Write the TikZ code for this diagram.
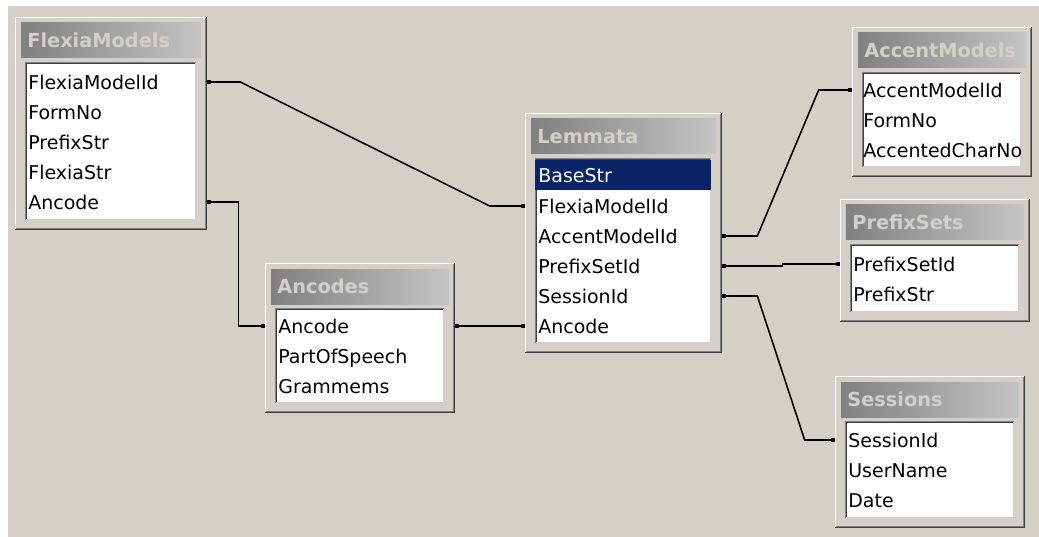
\documentclass[tikz,border=0pt]{standalone}
\usepackage{fontspec}
\setmainfont{DejaVu Sans}
\usetikzlibrary{positioning, fit, calc, arrows.meta}
\definecolor{winface}{HTML}{D4D0C8}
\definecolor{winshadow}{HTML}{808080}
\definecolor{windark}{HTML}{404040}
\definecolor{titledark}{HTML}{808080}
\definecolor{titlelight}{HTML}{C4C4C4}
\definecolor{selblue}{HTML}{0A246A}
\tikzset{
  winframe/.style={fill=winface, inner sep=0pt},
  titletext/.style={anchor=west, inner sep=0pt, text=winface,
    font=\fontsize{11}{13}\selectfont\bfseries},
  field/.style={anchor=west, inner sep=0pt, text height=11pt, text depth=2pt,
    font=\fontsize{10.8}{13}\selectfont},
  link/.style={line width=0.9pt,
    {Square[length=2.2pt,width=2.2pt]}-{Square[length=2.2pt,width=2.2pt]}}}
% table frame: name, left, top, right, bottom, title
\newcommand{\dbframe}[6]{%
  \node[winframe, fit={(#2,#3) (#4,#5)}] (#1) {};
  \draw[white, line width=0.6pt] (#2+0.5,#5-1) |- (#4-1,#3+0.5);
  \draw[windark, line width=0.6pt] (#2,#5-0.5) -| (#4-0.5,#3);
  \draw[winshadow, line width=0.6pt] (#2+1,#5-1.5) -| (#4-1.5,#3+1);
  \shade[left color=titledark, right color=titlelight] (#2+6,#3+6) rectangle (#4-6,#3+41);
  \fill[white] (#2+10,#3+45) rectangle (#4-11,#5-10);
  \draw[winshadow, line width=0.6pt] (#2+10.5,#5-10) |- (#4-11,#3+45.5);
  \draw[windark, line width=0.6pt] (#2+11.5,#5-11) |- (#4-12,#3+46.5);
  \draw[winface, line width=0.6pt] (#2+11,#5-10.5) -| (#4-11.5,#3+46);
  \node[titletext] (#1-title) at (#2+12,#3+23.5) {#6};
}

\begin{document}
\begin{tikzpicture}[x=0.02cm, y=-0.02cm]
\useasboundingbox (0,0) rectangle (1039,537);
\fill[white] (0,0) rectangle (1039,537);
\fill[winface] (8,6) rectangle (1039,537);
% tables
\dbframe{flexia}{15}{17}{207}{230}{FlexiaModels}
\dbframe{ancodes}{265}{263}{455}{413}{Ancodes}
\dbframe{lemmata}{525}{113}{722}{353}{Lemmata}
\dbframe{accent}{852}{27}{1032}{177}{AccentModels}
\dbframe{prefix}{840}{199}{1030}{322}{PrefixSets}
\dbframe{sessions}{835}{376}{1025}{528}{Sessions}
% fields
\node[field] (fm-id) at (28,82) {FlexiaModelId};
\node[field] (fm-form) at (28,112) {FormNo};
\node[field] (fm-pfx) at (28,142) {PrefixStr};
\node[field] (fm-flex) at (28,172) {FlexiaStr};
\node[field] (fm-anc) at (28,202) {Ancode};
\node[field] (an-anc) at (278,326) {Ancode};
\node[field] (an-pos) at (278,356) {PartOfSpeech};
\node[field] (an-gram) at (278,386) {Grammems};
\node[field, fill=selblue, text=white, inner xsep=0.06cm, minimum height=0.6cm,
  text width=3.4cm] (lem-base) at (535,175) {BaseStr};
\node[field] (lem-flex) at (538,206) {FlexiaModelId};
\node[field] (lem-acc) at (538,236) {AccentModelId};
\node[field] (lem-pfx) at (538,266) {PrefixSetId};
\node[field] (lem-ses) at (538,296) {SessionId};
\node[field] (lem-anc) at (538,326) {Ancode};
\node[field] (am-id) at (863,90) {AccentModelId};
\node[field] (am-form) at (863,120) {FormNo};
\node[field] (am-char) at (863,150) {AccentedCharNo};
\node[field] (ps-id) at (853,264) {PrefixSetId};
\node[field] (ps-str) at (853,294) {PrefixStr};
\node[field] (se-id) at (848,440) {SessionId};
\node[field] (se-user) at (848,470) {UserName};
\node[field] (se-date) at (848,500) {Date};
% relations
\draw[link] (flexia.east |- fm-id) -- ++(33,0)
  -- ($(lemmata.west |- lem-flex)+(-35,0)$) -- (lemmata.west |- lem-flex);
\draw[link] (flexia.east |- fm-anc) -- ++(31,0) |- (ancodes.west |- an-anc);
\draw[link] (ancodes.east |- an-anc) -- (lemmata.west |- lem-anc);
\draw[link] (lemmata.east |- lem-acc) -- ++(35,0)
  -- ($(accent.west |- am-id)+(-33,0)$) -- (accent.west |- am-id);
\draw[link] (lemmata.east |- lem-pfx) -- ++(60,0) |- (prefix.west |- ps-id);
\draw[link] (lemmata.east |- lem-ses) -- ++(35,0)
  -- ($(sessions.west |- se-id)+(-30,0)$) -- (sessions.west |- se-id);
\end{tikzpicture}
\end{document}
